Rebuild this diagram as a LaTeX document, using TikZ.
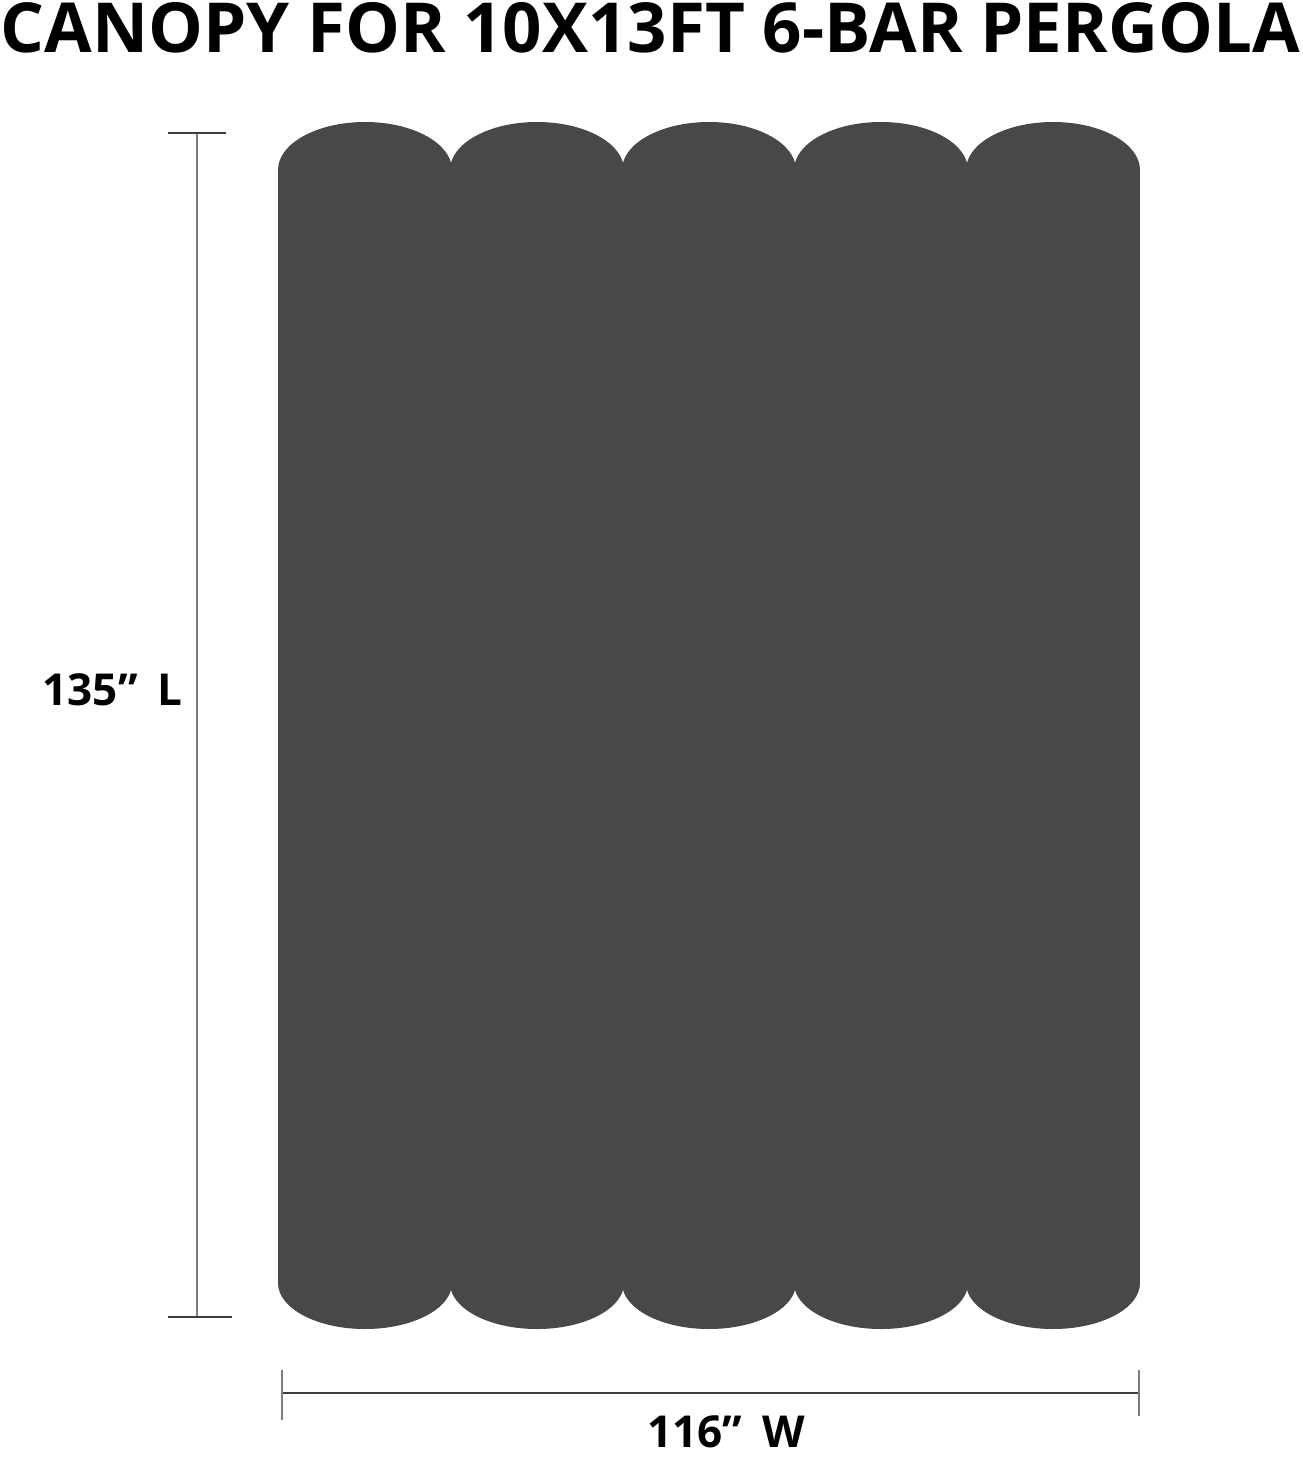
\documentclass[tikz,border=0pt]{standalone}
\usepackage{fontspec}
\setmainfont{Open Sans}
\usetikzlibrary{positioning,calc}

\definecolor{canopygray}{RGB}{72,72,72}
\definecolor{dimgray}{RGB}{125,125,125}
\definecolor{tickgray}{RGB}{60,60,60}

\begin{document}
\begin{tikzpicture}[x=1pt,y=-1pt,
  dimline/.style={draw=dimgray, line width=1.5pt},
  tickline/.style={draw=tickgray, line width=1.5pt},
  dimlabel/.style={font=\bfseries\fontsize{44}{47}\selectfont, inner sep=0pt}]

\useasboundingbox[fill=white] (0,0) rectangle (1303,1459);

% Title
\node[font=\bfseries\fontsize{69}{72}\selectfont, inner sep=0pt] (title) at (650,28) {CANOPY FOR 10X13FT 6-BAR PERGOLA};

% Canopy body
\fill[canopygray] (278,170) rectangle (1140,1283);

% Scalloped ends (5 pockets)
\foreach \i in {0,...,4} {
  \fill[canopygray] (365+172*\i,170) ellipse [x radius=87pt, y radius=48pt];
  \fill[canopygray] (365+172*\i,1283) ellipse [x radius=87pt, y radius=46pt];
}

% Length dimension
\coordinate (lentop) at (197,133);
\coordinate (lenbot) at (197,1317);
\coordinate (lentopL) at (168,133);
\coordinate (lentopR) at (226,133);
\coordinate (lenbotL) at (168,1317);
\coordinate (lenbotR) at (232,1317);
\draw[dimline] (lentop) -- (lenbot);
\draw[tickline] (lentopL) -- (lentopR);
\draw[tickline] (lenbotL) -- (lenbotR);
\node[dimlabel] (lenlabel) at (112.5,690) {135”\hspace{0.45em}L};

% Width dimension
\coordinate (widL) at (282,1393);
\coordinate (widR) at (1139,1393);
\coordinate (widLt) at (282,1370);
\coordinate (widLb) at (282,1420);
\coordinate (widRt) at (1139,1370);
\coordinate (widRb) at (1139,1416);
\draw[tickline] (widL) -- (widR);
\draw[dimline] (widLt) -- (widLb);
\draw[dimline] (widRt) -- (widRb);
\node[dimlabel] (widlabel) at (726,1432) {116”\hspace{0.45em}W};

\end{tikzpicture}
\end{document}
